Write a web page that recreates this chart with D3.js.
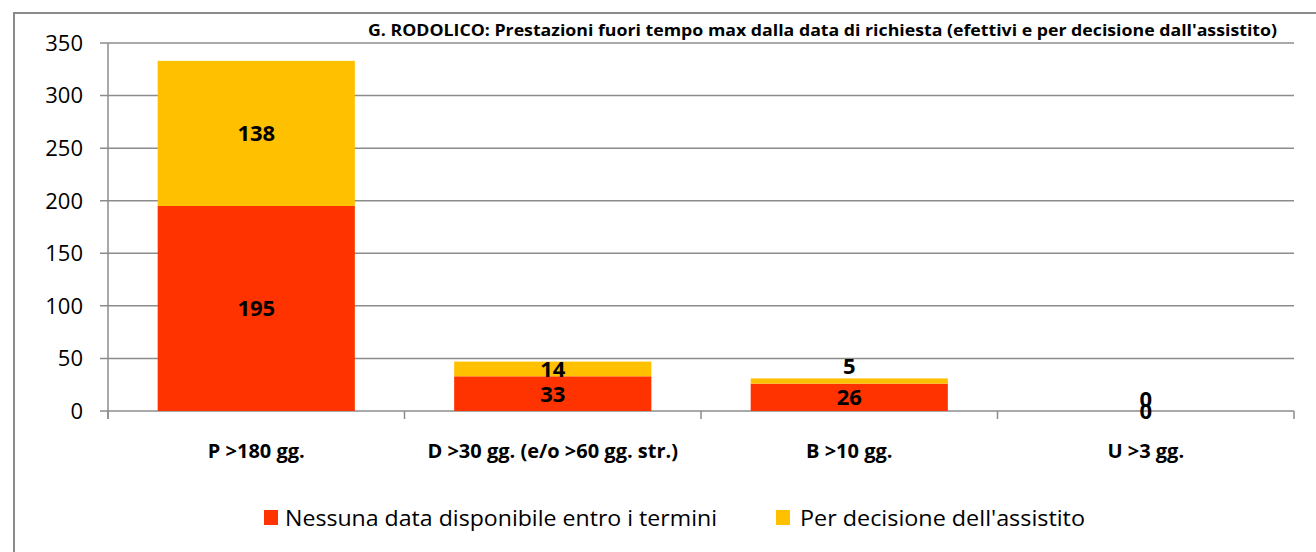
<!DOCTYPE html>
<html>
<head>
<meta charset="utf-8">
<script src="https://cdn.jsdelivr.net/npm/d3@7"></script>
<style>
  html, body { margin: 0; padding: 0; background: #fff; }
  svg { display: block; }
  text { font-family: "Open Sans", "Liberation Sans", sans-serif; fill: #000; }
</style>
</head>
<body>
<svg id="chart" width="1316" height="552"></svg>
<script>
const categories = ["P >180 gg.", "D >30 gg. (e/o >60 gg. str.)", "B >10 gg.", "U >3 gg."];
const seriesNames = ["Nessuna data disponibile entro i termini", "Per decisione dell'assistito"];
const nessunaData = [195, 33, 26, 0];
const perDecisione = [138, 14, 5, 0];
const yTicks = [0, 50, 100, 150, 200, 250, 300, 350];
const colors = ["#FF3300", "#FFC000"];
const title = "G. RODOLICO: Prestazioni fuori tempo max dalla data di richiesta (efettivi e per decisione dall'assistito)";

const svg = d3.select("#chart");
const W = 1316, H = 552;

// outer frame
svg.append("rect").attr("x", 14).attr("y", 13).attr("width", W + 20).attr("height", H + 20)
  .attr("fill", "#fff").attr("stroke", "#8a8a8a").attr("stroke-width", 2);

const x = d3.scaleBand().domain(categories).range([108, 1294]).paddingInner(0.335).paddingOuter(0.1675);
const y = d3.scaleLinear().domain([0, 350]).range([411, 43]);

// gridlines
svg.append("g").selectAll("line").data(yTicks).join("line")
  .attr("x1", 100).attr("x2", 1294)
  .attr("y1", d => y(d)).attr("y2", d => y(d))
  .attr("stroke", "#8c8c8c").attr("stroke-width", 1.5);

// y axis line
svg.append("line").attr("x1", 108).attr("x2", 108).attr("y1", y(350)).attr("y2", 419)
  .attr("stroke", "#8c8c8c").attr("stroke-width", 1.5);

// category tick marks at band boundaries
const step = x.step();
const bounds = d3.range(categories.length + 1).map(i => 108 + i * (1294 - 108) / categories.length);
svg.append("g").selectAll("line").data(bounds).join("line")
  .attr("x1", d => d).attr("x2", d => d).attr("y1", 411).attr("y2", 419)
  .attr("stroke", "#8c8c8c").attr("stroke-width", 1.5);

// y tick labels
svg.append("g").selectAll("text").data(yTicks).join("text")
  .attr("x", 83).attr("y", d => y(d)).attr("dy", "0.36em")
  .attr("text-anchor", "end").attr("font-size", 22)
  .text(d => d);

// stacked data
const rows = categories.map((c, i) => ({ cat: c, s0: nessunaData[i], s1: perDecisione[i] }));
const stack = d3.stack().keys(["s0", "s1"])(rows);

svg.append("g").selectAll("g").data(stack).join("g")
  .attr("fill", (d, i) => colors[i])
  .selectAll("rect").data(d => d).join("rect")
  .attr("x", d => x(d.data.cat))
  .attr("width", x.bandwidth())
  .attr("y", d => y(d[1]))
  .attr("height", d => y(d[0]) - y(d[1]));

// data labels
const labels = [];
stack.forEach((layer, si) => {
  layer.forEach(d => {
    const v = d[1] - d[0];
    const hpx = y(d[0]) - y(d[1]);
    let cy = (y(d[0]) + y(d[1])) / 2;
    if (si === 1 && hpx < 10) cy = y(d[1]) - 12;
    labels.push({ cx: x(d.data.cat) + x.bandwidth() / 2, cy, v });
  });
});
svg.append("g").selectAll("text").data(labels).join("text")
  .attr("x", d => d.cx).attr("y", d => d.cy).attr("dy", "0.36em")
  .attr("text-anchor", "middle").attr("font-size", 22).attr("font-weight", "bold")
  .text(d => d.v);

// category labels
svg.append("g").selectAll("text").data(categories).join("text")
  .attr("x", d => x(d) + x.bandwidth() / 2).attr("y", 458)
  .attr("text-anchor", "middle").attr("font-size", 20).attr("font-weight", "bold")
  .text(d => d);

// title
svg.append("text").attr("x", 822.5).attr("y", 36).attr("text-anchor", "middle")
  .attr("font-size", 15.5).attr("font-weight", "bold")
  .attr("textLength", 909).attr("lengthAdjust", "spacingAndGlyphs")
  .text(title);

// legend
const legendItems = [
  { name: seriesNames[0], color: colors[0], sx: 264, tx: 285, tw: 432 },
  { name: seriesNames[1], color: colors[1], sx: 776, tx: 800, tw: 285 }
];
const lg = svg.append("g").selectAll("g").data(legendItems).join("g");
lg.append("rect").attr("x", d => d.sx).attr("y", 510).attr("width", 14).attr("height", 15).attr("fill", d => d.color);
lg.append("text").attr("x", d => d.tx).attr("y", 526).attr("font-size", 22)
  .attr("textLength", d => d.tw).attr("lengthAdjust", "spacingAndGlyphs")
  .text(d => d.name);
</script>
</body>
</html>
